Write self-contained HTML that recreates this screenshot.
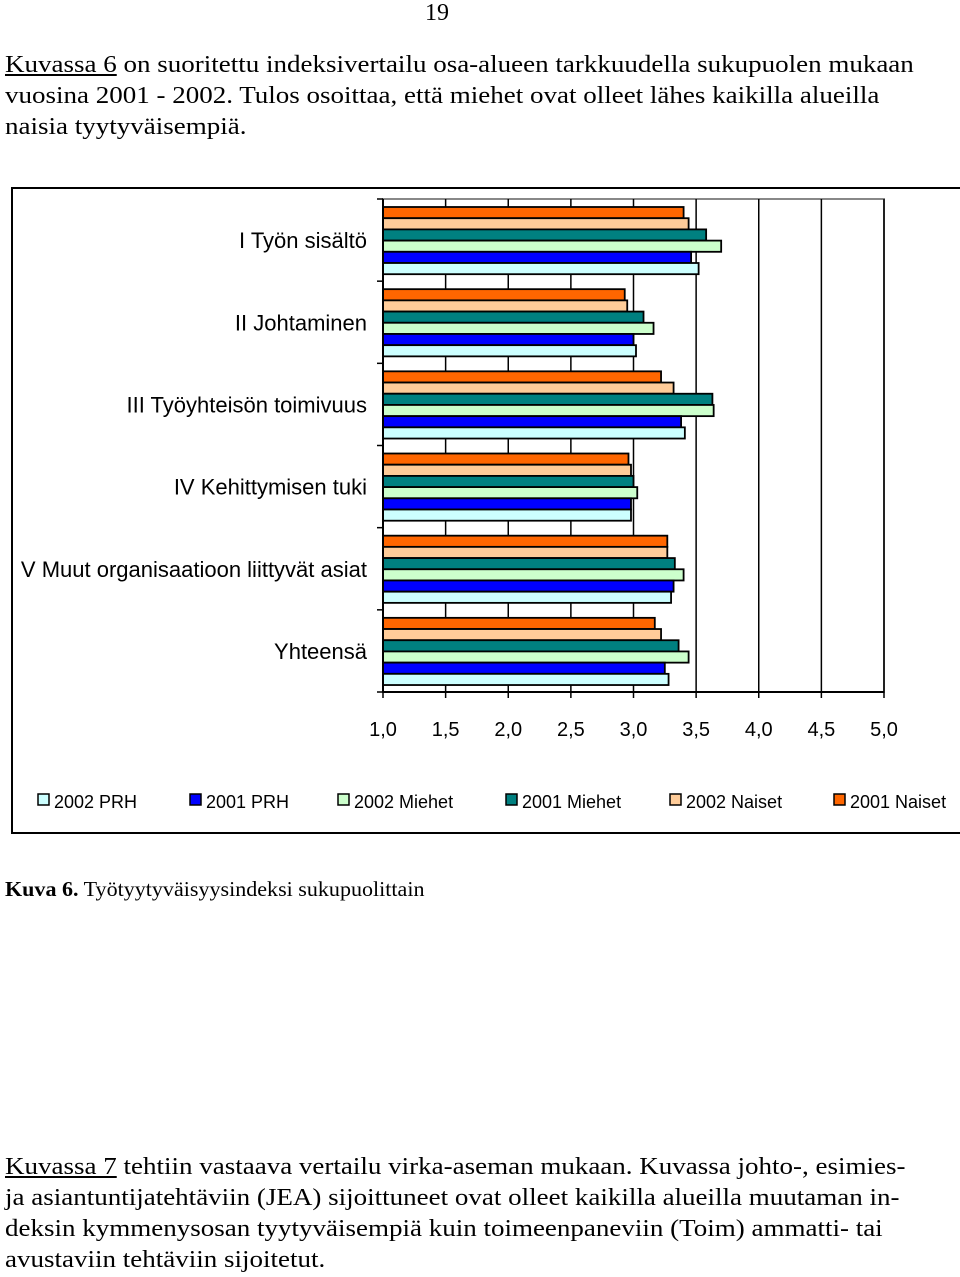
<!DOCTYPE html>
<html><head><meta charset="utf-8"><style>
body{margin:0;width:960px;height:1277px;background:#fff;position:relative;overflow:hidden;font-family:"Liberation Serif",serif;color:#000}
.p{position:absolute;left:5px;font-size:24px;line-height:31px;white-space:nowrap;transform-origin:0 0}
u{text-decoration:underline}
</style></head><body>
<div style="position:absolute;left:425px;top:0px;font-size:24px">19</div>
<div class="p" style="top:50px;transform:scaleX(1.125)"><u>Kuvassa 6</u> on suoritettu indeksivertailu osa-alueen tarkkuudella sukupuolen mukaan<br>vuosina 2001 - 2002. Tulos osoittaa, että miehet ovat olleet lähes kaikilla alueilla<br>naisia tyytyväisempiä.</div>
<svg id="chart" width="960" height="840" style="position:absolute;left:0;top:0" font-family="Liberation Sans, sans-serif"></svg>
<div class="p" style="top:874px;font-size:21px;transform:scaleX(1.05)"><b>Kuva 6.</b> Työtyytyväisyysindeksi sukupuolittain</div>
<div class="p" style="top:1152px;transform:scaleX(1.125)"><u>Kuvassa 7</u> tehtiin vastaava vertailu virka-aseman mukaan. Kuvassa johto-, esimies-<br>ja asiantuntijatehtäviin (JEA) sijoittuneet ovat olleet kaikilla alueilla muutaman in-<br>deksin kymmenysosan tyytyväisempiä kuin toimeenpaneviin (Toim) ammatti- tai<br>avustaviin tehtäviin sijoitetut.</div>
<script>
const categories=["I  Työn sisältö","II  Johtaminen","III  Työyhteisön toimivuus","IV  Kehittymisen tuki","V  Muut organisaatioon liittyvät asiat","Yhteensä"];
const seriesNames=["2001 Naiset","2002 Naiset","2001 Miehet","2002 Miehet","2001 PRH","2002 PRH"];
const seriesColors=["#ff6600","#ffcc99","#008080","#ccffcc","#0000ff","#ccffff"];
const naiset2001=[3.40,2.93,3.22,2.96,3.27,3.17];
const naiset2002=[3.44,2.95,3.32,2.98,3.27,3.22];
const miehet2001=[3.58,3.08,3.63,3.00,3.33,3.36];
const miehet2002=[3.70,3.16,3.64,3.03,3.40,3.44];
const prh2001=[3.46,3.00,3.38,2.98,3.32,3.25];
const prh2002=[3.52,3.02,3.41,2.98,3.30,3.28];
const tickLabels=["1,0","1,5","2,0","2,5","3,0","3,5","4,0","4,5","5,0"];
const tickValues=[1,1.5,2,2.5,3,3.5,4,4.5,5];
const legendOrder=[5,4,3,2,1,0];
const series=[naiset2001,naiset2002,miehet2001,miehet2002,prh2001,prh2002];
const svg=document.getElementById('chart');const NS='http://www.w3.org/2000/svg';
function mk(t,a,p){const e=document.createElementNS(NS,t);for(const k in a)e.setAttribute(k,a[k]);(p||svg).appendChild(e);return e;}
const X0=383,X1=884,Y0=199,Y1=692;
const x=v=>X0+(v-1)/4*(X1-X0);
const gh=(Y1-Y0)/categories.length;
const frame=mk('rect',{x:12,y:188,width:960,height:645,fill:'#fff',stroke:'#000','stroke-width':2});


mk('rect',{x:X0,y:Y0,width:X1-X0,height:Y1-Y0,fill:'none',stroke:'#888','stroke-width':2});
tickValues.forEach((v,i)=>{
 if(i>0){const g=mk('line',{x1:x(v),x2:x(v),y1:Y0,y2:Y1,stroke:'#000','stroke-width':1.5});
 
 }
 mk('line',{x1:x(v),x2:x(v),y1:Y1,y2:Y1+6,stroke:'#000','stroke-width':1.5});
 const t=mk('text',{x:x(v),y:736,'text-anchor':'middle','font-size':20});t.textContent=tickLabels[i];
 
 
});
categories.forEach((c,ci)=>{
 const gy=Y0+ci*gh;
 mk('line',{x1:X0-6,x2:X0,y1:gy,y2:gy,stroke:'#000','stroke-width':1.5});
 const t=mk('text',{x:367,y:gy+gh/2+8,'text-anchor':'end','font-size':22});t.textContent=c;t.setAttribute('xml:space','preserve');
 
 
 series.forEach((s,si)=>{
  const r=mk('rect',{x:X0,y:gy+8+si*11.2,width:x(s[ci])-X0,height:11.2,fill:seriesColors[si],stroke:'#000','stroke-width':1.8});
  
  
 });
});
mk('line',{x1:X0,x2:X0,y1:Y0,y2:Y1,stroke:'#000','stroke-width':2});
mk('line',{x1:X0,x2:X1,y1:Y1,y2:Y1,stroke:'#000','stroke-width':2});
mk('line',{x1:X0-6,x2:X0,y1:Y1,y2:Y1,stroke:'#000','stroke-width':1.5});
const lx=[38,190,338,506,670,834];
legendOrder.forEach((si,i)=>{
 const g=mk('g',{});
 
 
 mk('rect',{x:lx[i],y:794,width:11,height:11,fill:seriesColors[si],stroke:'#000','stroke-width':1.5},g);
 const t=mk('text',{x:lx[i]+16,y:808,'font-size':18},g);t.textContent=seriesNames[si];
});
</script>
</body></html>
